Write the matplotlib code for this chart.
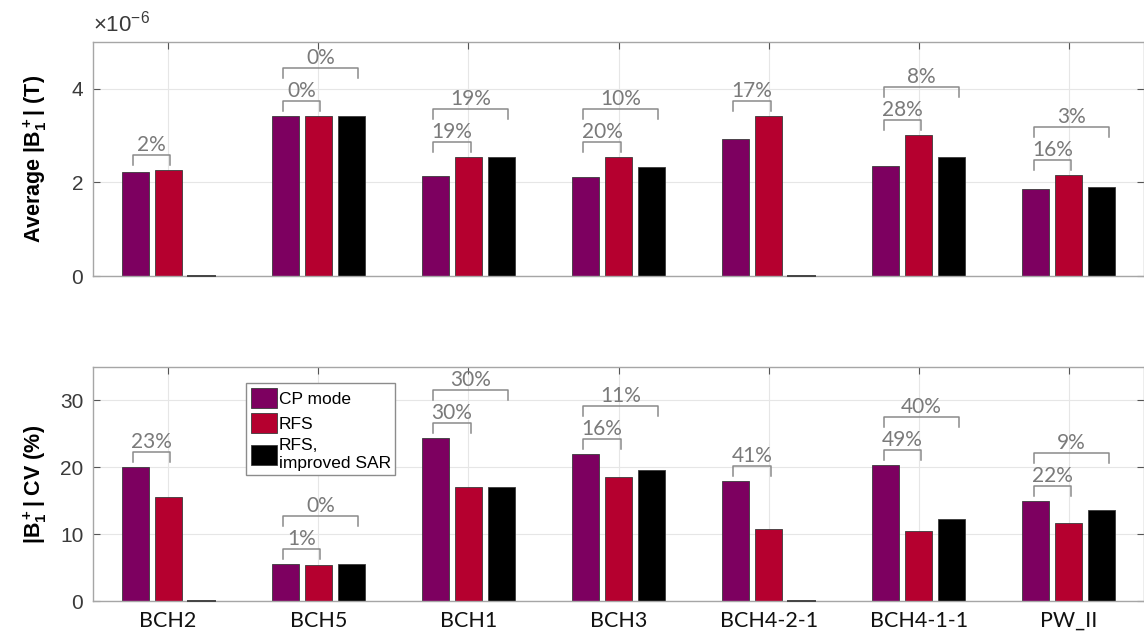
import matplotlib.pyplot as plt
import numpy as np
from matplotlib.ticker import FuncFormatter
from matplotlib.patches import Patch

plt.rcParams['font.family'] = ['Liberation Sans', 'DejaVu Sans']
plt.rcParams['mathtext.fontset'] = 'custom'
plt.rcParams['mathtext.rm'] = 'Liberation Sans'
plt.rcParams['mathtext.bf'] = 'Liberation Sans:bold'

# subjects / coil setups
subjects = ["BCH2", "BCH5", "BCH1", "BCH3", "BCH4-2-1", "BCH4-1-1", "PW_II"]
series_names = ["CP mode", "RFS", "RFS,\nimproved SAR"]

# mean |B1+| in uT (0 = no improved-SAR solution)
avg_cp = [2.22, 3.41, 2.14, 2.12, 2.92, 2.35, 1.86]
avg_rfs = [2.27, 3.43, 2.55, 2.54, 3.41, 3.01, 2.16]
avg_sar = [0.0, 3.43, 2.55, 2.34, 0.0, 2.54, 1.91]

# coefficient of variation of |B1+| in %
cv_cp = [20.1, 5.5, 24.4, 22.0, 18.0, 20.4, 14.9]
cv_rfs = [15.5, 5.45, 17.0, 18.5, 10.7, 10.4, 11.6]
cv_sar = [0.0, 5.5, 17.0, 19.6, 0.0, 12.3, 13.6]

# percent differences written over the brackets (CP vs RFS, CP vs improved SAR)
avg_pct_rfs = ["2%", "0%", "19%", "20%", "17%", "28%", "16%"]
avg_pct_sar = [None, "0%", "19%", "10%", None, "8%", "3%"]
cv_pct_rfs = ["23%", "1%", "30%", "16%", "41%", "49%", "22%"]
cv_pct_sar = [None, "0%", "30%", "11%", None, "40%", "9%"]

colors = ["#7d0060", "#b5002f", "#000000"]
bracket_col = "#8a8a8a"
text_col = "#7a7a7a"

fig = plt.figure(figsize=(11.44, 6.37), dpi=100)
ax_top = fig.add_axes([0.0813, 0.5667, 0.9187, 0.3673])
ax_bot = fig.add_axes([0.0813, 0.0565, 0.9187, 0.3673])

x = np.arange(1, len(subjects) + 1)
offsets = [-0.22, 0.0, 0.22]
width = 0.18


def draw_panel(ax, vals, pct_rfs, pct_sar, ymax):
    for k, v in enumerate(vals):
        ax.bar(x + offsets[k], v, width, color=colors[k], edgecolor="#3a3a3a",
               linewidth=0.6, label=series_names[k], zorder=2)
        # missing solutions still show as a flat line on the baseline
        for xi, vi in zip(x + offsets[k], v):
            if vi == 0:
                ax.plot([xi - width / 2, xi + width / 2], [0, 0],
                        color="#444444", lw=1.4, zorder=3, clip_on=False)
    ax.set_xlim(0.5, 7.5)
    ax.set_ylim(0, ymax)
    px = ymax / ax.bbox.height  # data units per pixel

    for i in range(len(subjects)):
        c = x[i]
        left = c - 0.235
        top_short = max(vals[0][i], vals[1][i])
        y_short = top_short + 15 * px
        ax.plot([left, left, c + 0.015, c + 0.015],
                [y_short - 10 * px, y_short, y_short, y_short - 10 * px],
                color=bracket_col, lw=1.1, zorder=3)
        ax.text((left + c + 0.015) / 2, y_short + 4 * px, pct_rfs[i],
                ha="center", va="baseline", color=text_col, fontsize=15,
                family=["Lato", "DejaVu Sans"])
        if pct_sar[i] is not None:
            y_long = y_short + 33 * px
            ax.plot([left, left, c + 0.265, c + 0.265],
                    [y_long - 10 * px, y_long, y_long, y_long - 10 * px],
                    color=bracket_col, lw=1.1, zorder=3)
            ax.text((left + c + 0.265) / 2, y_long + 4 * px, pct_sar[i],
                    ha="center", va="baseline", color=text_col, fontsize=15,
                    family=["Lato", "DejaVu Sans"])

    ax.set_xticks(x)
    ax.grid(True, color="#e6e6e6", lw=0.8, zorder=0)
    ax.set_axisbelow(True)
    ax.tick_params(direction="in", length=5, color="#555555", width=0.8,
                   top=True, right=True, labelsize=15, labelcolor="#3a3a3a", pad=7)
    for s in ax.spines.values():
        s.set_color("#a6a6a6")
        s.set_linewidth(1.0)


scale = 1e-6
draw_panel(ax_top, [np.array(avg_cp) * scale, np.array(avg_rfs) * scale,
                    np.array(avg_sar) * scale],
           avg_pct_rfs, avg_pct_sar, 5e-6)
ax_top.set_yticks([0, 2e-6, 4e-6])
ax_top.yaxis.set_major_formatter(FuncFormatter(lambda v, p: f"{v / scale:g}"))
ax_top.text(0.0, 1.025, r"$\times10^{-6}$", transform=ax_top.transAxes,
            fontsize=16, color="#3a3a3a", ha="left", va="bottom")
ax_top.set_xticklabels([])
ax_top.set_ylabel(r"Average |$\mathbf{B_1^+}$| (T)", fontsize=15.5,
                  fontweight="bold", labelpad=16)

draw_panel(ax_bot, [np.array(cv_cp), np.array(cv_rfs), np.array(cv_sar)],
           cv_pct_rfs, cv_pct_sar, 35)
ax_bot.set_yticks([0, 10, 20, 30])
ax_bot.set_xticklabels(subjects, fontsize=15.5, color="#111111",
                       family=["Lato", "DejaVu Sans"])
ax_bot.tick_params(axis="x", labelcolor="#111111", pad=7)
ax_bot.set_ylabel(r"|$\mathbf{B_1^+}$| CV (%)", fontsize=15.5,
                  fontweight="bold", labelpad=8)

handles = [Patch(facecolor=colors[k], edgecolor="#3a3a3a", linewidth=0.6)
           for k in range(3)]
leg = ax_bot.legend(handles, series_names, loc="upper left",
                    bbox_to_anchor=(0.146, 0.93), fontsize=12.5, frameon=True,
                    fancybox=False, edgecolor="#8c8c8c", framealpha=1,
                    handlelength=1.5, handleheight=1.4, handletextpad=0.1,
                    labelspacing=0.3, borderpad=0.25, borderaxespad=0)
leg.get_frame().set_linewidth(1.0)

fig.savefig("out.png", dpi=100)
